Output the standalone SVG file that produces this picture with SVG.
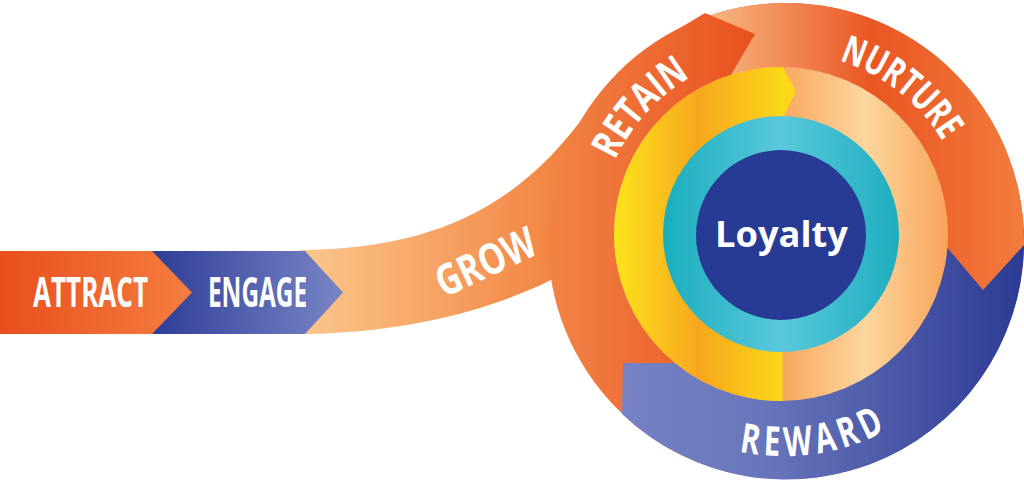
<svg xmlns="http://www.w3.org/2000/svg" width="1024" height="482" viewBox="0 0 1024 482">
<style>
.lbl{font-family:"Open Sans","Liberation Sans",sans-serif;font-weight:700;fill:#ffffff;}
</style>
<defs>
<linearGradient id="gAttract" gradientUnits="userSpaceOnUse" x1="0" y1="0" x2="190" y2="0"><stop offset="0" stop-color="#e94f1d"/><stop offset="1" stop-color="#f47d40"/></linearGradient>
<linearGradient id="gEngage" gradientUnits="userSpaceOnUse" x1="152" y1="0" x2="343" y2="0"><stop offset="0" stop-color="#2d3d96"/><stop offset="1" stop-color="#7a85c7"/></linearGradient>
<linearGradient id="gGrow" gradientUnits="userSpaceOnUse" x1="305" y1="0" x2="565" y2="0"><stop offset="0" stop-color="#fbc68b"/><stop offset="1" stop-color="#f2823f"/></linearGradient>
<linearGradient id="gRetain" gradientUnits="userSpaceOnUse" x1="548" y1="0" x2="760" y2="0"><stop offset="0" stop-color="#f28446"/><stop offset="1" stop-color="#e8501e"/></linearGradient>
<linearGradient id="gNurture" gradientUnits="userSpaceOnUse" x1="705" y1="0" x2="1024" y2="0"><stop offset="0" stop-color="#f8bb86"/><stop offset="0.52" stop-color="#ea5623"/><stop offset="0.85" stop-color="#ef6f34"/><stop offset="1" stop-color="#f27d3e"/></linearGradient>
<linearGradient id="gReward" gradientUnits="userSpaceOnUse" x1="622" y1="0" x2="1020" y2="0"><stop offset="0" stop-color="#7682c4"/><stop offset="0.35" stop-color="#6a76bb"/><stop offset="1" stop-color="#2c3c95"/></linearGradient>
<linearGradient id="gYellow" gradientUnits="userSpaceOnUse" x1="614" y1="0" x2="783" y2="0"><stop offset="0" stop-color="#fbe41c"/><stop offset="0.5" stop-color="#f8a71e"/><stop offset="1" stop-color="#fad818"/></linearGradient>
<linearGradient id="gPeach" gradientUnits="userSpaceOnUse" x1="783" y1="0" x2="948" y2="0"><stop offset="0" stop-color="#f8a860"/><stop offset="0.5" stop-color="#fcd69e"/><stop offset="1" stop-color="#f7a55a"/></linearGradient>
<linearGradient id="gTeal" gradientUnits="userSpaceOnUse" x1="663" y1="0" x2="899" y2="0"><stop offset="0" stop-color="#1aaebd"/><stop offset="0.5" stop-color="#5ac8dc"/><stop offset="1" stop-color="#1daebe"/></linearGradient>
<path id="topArc" d="M598,238 A186,186 0 0 1 970,238" fill="none"/>
<path id="botArc" d="M566,238 A218,218 0 0 0 1002,238" fill="none"/>
</defs>

<g id="grow">
<path d="M300,250 L305,250 C430,248 520,210 592,105 L700,200 L551,280 C500,305 420,332 305,334 L300,334 Z" fill="url(#gGrow)"/>
</g>

<g id="engage">
<polygon points="150,251 305,251 343,292.5 305,334 150,334" fill="url(#gEngage)"/>
<text class="lbl" x="208" y="307" font-size="42" textLength="99" lengthAdjust="spacingAndGlyphs">ENGAGE</text>
</g>

<g id="attract">
<polygon points="0,251 152,251 192,292.5 152,334 0,334" fill="url(#gAttract)"/>
<text class="lbl" x="33" y="307" font-size="42" textLength="115" lengthAdjust="spacingAndGlyphs">ATTRACT</text>
</g>

<g id="retain">
<circle cx="786" cy="241" r="238" fill="url(#gRetain)"/>
</g>

<g id="reward">
<path d="M1023.7,228.5 A238,238 0 0 1 622,414 L623,363 L690,363 L900,340 L930,230 Z" fill="url(#gReward)"/>
</g>

<g id="nurture">
<path d="M705,17.2 A238,238 0 0 1 1023.97,245 L983,290 L945,245 L900,240 L781,110 L725,120 Z" fill="url(#gNurture)"/>
</g>

<g id="retain-head">
<polygon points="660,40 705,13 755,34 728,80 700,120" fill="url(#gRetain)"/>
</g>

<g id="inner-ring">
<circle cx="781" cy="234" r="167" fill="url(#gPeach)"/>
<path d="M782.5,401 A167,167 0 0 1 614,234 A167,167 0 0 1 782.5,67 L796,91 L784,116 L782.5,300 Z" fill="url(#gYellow)"/>
</g>

<g id="teal-ring">
<circle cx="781" cy="234" r="118" fill="url(#gTeal)"/>
</g>

<g id="loyalty">
<circle cx="781" cy="235" r="85" fill="#283b94"/>
<text class="lbl" x="715" y="247" font-size="36" textLength="133" lengthAdjust="spacingAndGlyphs">Loyalty</text>
</g>

<g id="labels">
<text class="lbl" font-size="43" transform="translate(444,298) rotate(-25)" textLength="106" lengthAdjust="spacingAndGlyphs">GROW</text>
<text class="lbl" font-size="40"><textPath href="#topArc" startOffset="80" textLength="114" lengthAdjust="spacingAndGlyphs">RETAIN</textPath></text>
<text class="lbl" font-size="39"><textPath href="#topArc" startOffset="348" textLength="134" lengthAdjust="spacingAndGlyphs">NURTURE</textPath></text>
<text class="lbl" font-size="41" letter-spacing="7"><textPath href="#botArc" startOffset="297" textLength="156" lengthAdjust="spacingAndGlyphs">REWARD</textPath></text>
</g>
</svg>
